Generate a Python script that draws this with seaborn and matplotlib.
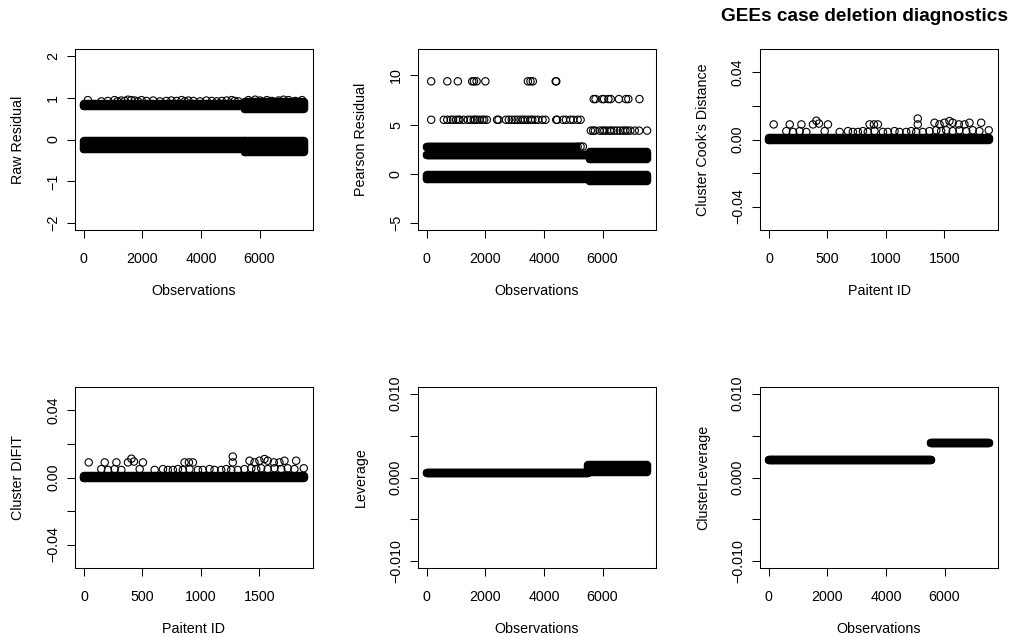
import matplotlib
matplotlib.use("Agg")
import matplotlib.pyplot as plt
import seaborn as sns

sns.set_theme(style="white")
plt.rcParams['font.family'] = ['Liberation Sans', 'DejaVu Sans']
plt.rcParams['axes.unicode_minus'] = True

# ---------------- data ----------------
obs_ticks = [0, 2000, 4000, 6000]
id_ticks = [0, 500, 1000, 1500]

# Panel 1: raw residuals - dense bands (x from, x to, y low, y high)
raw_band_x0 = [1, 5520, 1, 5520]
raw_band_x1 = [5500, 7529, 5500, 7529]
raw_band_lo = [-0.22, -0.31, 0.79, 0.72]
raw_band_hi = [-0.03, -0.03, 0.84, 0.89]
raw_top_x = [140, 600, 820, 1050, 1150, 1280, 1400, 1510, 1620, 1740, 1850, 1970,
             2140, 2370, 2600, 2820, 2990, 3170, 3340, 3450, 3570, 3740, 3970, 4190,
             4370, 4540, 4710, 4880, 5050, 5150, 5280, 5620, 5850, 6020, 6250, 6420,
             6650, 6820, 6990, 7220, 7450]
raw_top_y = [0.94, 0.91, 0.92, 0.94, 0.91, 0.93, 0.92, 0.95, 0.94, 0.93, 0.91, 0.94,
             0.92, 0.93, 0.91, 0.92, 0.93, 0.92, 0.94, 0.91, 0.93, 0.92, 0.91, 0.93,
             0.92, 0.91, 0.92, 0.93, 0.94, 0.92, 0.91, 0.94, 0.95, 0.93, 0.94, 0.92,
             0.93, 0.95, 0.94, 0.92, 0.94]

# Panel 2: Pearson residuals
pear_band_x0 = [1, 5560, 1, 1, 5560]
pear_band_x1 = [5500, 7529, 5100, 5450, 7529]
pear_band_lo = [-0.50, -0.70, 2.78, 1.93, 1.55]
pear_band_hi = [-0.10, -0.10, 2.78, 1.93, 2.20]
pear_r94_x = [150, 700, 1060, 1550, 1610, 1700, 2000, 3450, 3540, 3620, 4400, 4420]
pear_r55_x = [150, 580, 700, 820, 900, 1000, 1080, 1120, 1250, 1400, 1500, 1600,
              1650, 1720, 1800, 1900, 1960, 2050, 2400, 2450, 2700, 2800, 2900, 3000,
              3100, 3200, 3280, 3350, 3450, 3550, 3600, 3700, 3800, 3950, 4050, 4420,
              4450, 4650, 4750, 4900, 5000, 5150, 5250]
pear_r76_x = [5700, 5760, 5990, 6050, 6200, 6280, 6560, 6800, 6880, 7260]
pear_r44_x = [5600, 5680, 5740, 5900, 6000, 6060, 6150, 6250, 6300, 6400, 6500,
              6600, 6700, 6780, 6850, 6950, 7100, 7250, 7520]
pear_r28_x = [5150, 5250, 5330]
pear_levels = [9.4, 5.5, 7.6, 4.4, 2.78]

# Panels 3 and 4: cluster Cook's distance / cluster DFFIT (same picture)
cook_band_x0 = [1]
cook_band_x1 = [1884]
cook_band_lo = [0.0]
cook_band_hi = [0.0006]
cook_x = [40, 177, 277, 376, 405, 427, 504, 860, 897, 931, 1272, 1272, 1415, 1458,
          1500, 1543, 1571, 1623, 1671, 1714, 1814, 1879,
          148, 205, 262, 319, 476, 604, 675, 717, 760, 803, 845, 902, 974, 1016,
          1073, 1116, 1173, 1216, 1259, 1315, 1372, 1430, 1472, 1515, 1571, 1628,
          1686, 1742, 1799]
cook_y = [0.0090, 0.0090, 0.0090, 0.0090, 0.0112, 0.0095, 0.0090, 0.0090, 0.0090,
          0.0090, 0.0125, 0.0090, 0.0100, 0.0090, 0.0100, 0.0110, 0.0100, 0.0090,
          0.0090, 0.0100, 0.0100, 0.0055,
          0.0050, 0.0045, 0.0050, 0.0045, 0.0050, 0.0045, 0.0050, 0.0045, 0.0045,
          0.0050, 0.0045, 0.0050, 0.0045, 0.0045, 0.0050, 0.0045, 0.0045, 0.0050,
          0.0045, 0.0045, 0.0050, 0.0055, 0.0050, 0.0055, 0.0050, 0.0055, 0.0050,
          0.0055, 0.0050]
difit_x = cook_x
difit_y = cook_y

# Panel 5: leverage
lev_band_x0 = [1, 5520]
lev_band_x1 = [5500, 7529]
lev_band_lo = [0.0005, 0.0007]
lev_band_hi = [0.0005, 0.0015]

# Panel 6: cluster leverage
clev_band_x0 = [1, 5530]
clev_band_x1 = [5530, 7529]
clev_band_lo = [0.0021, 0.0041]
clev_band_hi = [0.0021, 0.0041]

# ---------------- figure ----------------
W, H = 1014, 637
fig = plt.figure(figsize=(W / 100, H / 100), dpi=100)

col_left = [75, 418, 760]
row_bottom = [230, 568]
box_w, box_h = 238, 181

FS = 10.3
MARK_S = 28
MARK_LW = 0.8
BAND_LW = 6.1


def make_ax(r, c):
    ax = fig.add_axes([col_left[c] / W, 1 - row_bottom[r] / H, box_w / W, box_h / H])
    ax.set_facecolor('white')
    for sp in ax.spines.values():
        sp.set_visible(True)
        sp.set_color('black')
        sp.set_linewidth(0.75)
        sp.set_zorder(5)
    ax.tick_params(axis='both', direction='out', length=5.5, width=0.75,
                   colors='black', labelsize=FS, bottom=True, left=True)
    ax.tick_params(axis='x', pad=10)
    ax.tick_params(axis='y', pad=5.3, labelrotation=90)
    ax.grid(False)
    return ax


def bands(ax, x0s, x1s, los, his):
    for x0, x1, lo, hi in zip(x0s, x1s, los, his):
        ax.fill_between([x0, x1], [lo, lo], [hi, hi], facecolor='black',
                        edgecolor='none', linewidth=0, zorder=2)
        ax.plot([x0, x1, x1, x0, x0], [lo, lo, hi, hi, lo], color='black',
                linewidth=BAND_LW, solid_joinstyle='round',
                solid_capstyle='round', zorder=2)


def circles(ax, xs, ys):
    sns.scatterplot(x=xs, y=ys, ax=ax, s=MARK_S, marker='o', facecolor='none',
                    edgecolor='black', linewidth=MARK_LW, legend=False, zorder=3)
    coll = ax.collections[-1]
    coll.set_facecolor('none')
    coll.set_edgecolor('black')
    coll.set_linewidth(MARK_LW)


def labels(ax, xl, yl):
    ax.set_xlabel(xl, fontsize=FS, color='black')
    ax.set_ylabel(yl, fontsize=FS, color='black')
    ax.xaxis.label.set_va('center')
    ax.yaxis.label.set_va('center')
    ax.xaxis.set_label_coords(0.5, -0.336)
    ax.yaxis.set_label_coords(-0.2387, 0.5)


def yticks(ax, vals, labs):
    ax.set_yticks(vals)
    ax.set_yticklabels(labs, rotation=90, va='center', fontsize=FS)


obs_xlim = (-300, 7825)
id_xlim = (-77, 1958)

# Panel 1
ax = make_ax(0, 0)
bands(ax, raw_band_x0, raw_band_x1, raw_band_lo, raw_band_hi)
circles(ax, raw_top_x, raw_top_y)
ax.set_xlim(*obs_xlim)
ax.set_ylim(-2.16, 2.16)
ax.set_xticks(obs_ticks)
ax.set_xticklabels([str(t) for t in obs_ticks])
yticks(ax, [-2, -1, 0, 1, 2], ['\u22122', '\u22121', '0', '1', '2'])
labels(ax, 'Observations', 'Raw Residual')

# Panel 2
ax = make_ax(0, 1)
bands(ax, pear_band_x0, pear_band_x1, pear_band_lo, pear_band_hi)
for xs, lev in zip([pear_r94_x, pear_r55_x, pear_r76_x, pear_r44_x, pear_r28_x], pear_levels):
    circles(ax, xs, [lev] * len(xs))
ax.set_xlim(*obs_xlim)
ax.set_ylim(-5.68, 12.68)
ax.set_xticks(obs_ticks)
ax.set_xticklabels([str(t) for t in obs_ticks])
yticks(ax, [-5, 0, 5, 10], ['\u22125', '0', '5', '10'])
labels(ax, 'Observations', 'Pearson Residual')

# Panel 3
ax = make_ax(0, 2)
bands(ax, cook_band_x0, cook_band_x1, cook_band_lo, cook_band_hi)
circles(ax, cook_x, cook_y)
ax.set_xlim(*id_xlim)
ax.set_ylim(-0.054, 0.054)
ax.set_xticks(id_ticks)
ax.set_xticklabels([str(t) for t in id_ticks])
yticks(ax, [-0.04, -0.02, 0, 0.02, 0.04], ['\u22120.04', '', '0.00', '', '0.04'])
labels(ax, 'Paitent ID', "Cluster Cook\u2019s Distance")

# Panel 4
ax = make_ax(1, 0)
bands(ax, cook_band_x0, cook_band_x1, cook_band_lo, cook_band_hi)
circles(ax, difit_x, difit_y)
ax.set_xlim(*id_xlim)
ax.set_ylim(-0.054, 0.054)
ax.set_xticks(id_ticks)
ax.set_xticklabels([str(t) for t in id_ticks])
yticks(ax, [-0.04, -0.02, 0, 0.02, 0.04], ['\u22120.04', '', '0.00', '', '0.04'])
labels(ax, 'Paitent ID', 'Cluster DIFIT')

# Panel 5
ax = make_ax(1, 1)
bands(ax, lev_band_x0, lev_band_x1, lev_band_lo, lev_band_hi)
ax.set_xlim(*obs_xlim)
ax.set_ylim(-0.0108, 0.0108)
ax.set_xticks(obs_ticks)
ax.set_xticklabels([str(t) for t in obs_ticks])
yticks(ax, [-0.010, -0.005, 0, 0.005, 0.010], ['\u22120.010', '', '0.000', '', '0.010'])
labels(ax, 'Observations', 'Leverage')

# Panel 6
ax = make_ax(1, 2)
bands(ax, clev_band_x0, clev_band_x1, clev_band_lo, clev_band_hi)
ax.set_xlim(*obs_xlim)
ax.set_ylim(-0.0108, 0.0108)
ax.set_xticks(obs_ticks)
ax.set_xticklabels([str(t) for t in obs_ticks])
yticks(ax, [-0.010, -0.005, 0, 0.005, 0.010], ['\u22120.010', '', '0.000', '', '0.010'])
labels(ax, 'Observations', 'ClusterLeverage')

fig.text(1008 / W, 1 - 16.5 / H, 'GEEs case deletion diagnostics', ha='right',
         va='center', fontsize=13.7, fontweight='bold', color='black')

fig.savefig('out.png', dpi=100, facecolor='white')
